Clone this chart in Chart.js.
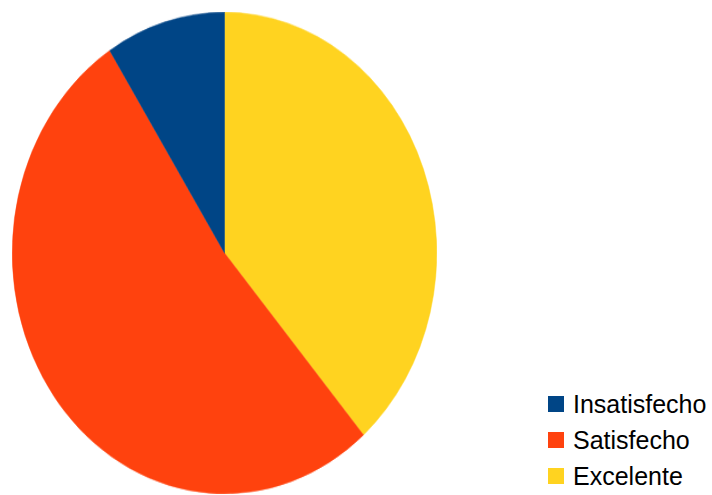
<!DOCTYPE html>
<html>
<head>
<meta charset="utf-8">
<script src="https://cdn.jsdelivr.net/npm/chart.js@4"></script>
<style>
    html, body { margin: 0; padding: 0; background: #fff; }
    body { width: 712px; height: 495px; position: relative; overflow: hidden; }
    #pieWrap {
        position: absolute; left: 12px; top: 12px;
        width: 425px; height: 425px;
        transform: scaleY(1.134); transform-origin: 0 0;
    }
    #legend {
        position: absolute; left: 548px; top: 386px;
        font-family: "Liberation Sans", Arial, sans-serif; font-size: 25px; color: #000;
    }
    .item { display: flex; align-items: center; height: 36px; }
    .box { width: 16px; height: 16px; margin-right: 9px; }
</style>
</head>
<body>
<div id="pieWrap"><canvas id="pieChart" width="425" height="425"></canvas></div>
<div id="legend"></div>
<script>
// Chart data
const labels = ['Insatisfecho', 'Satisfecho', 'Excelente'];
const values = [4, 23, 17];
const sliceColors = ['#004586', '#ff420e', '#ffd320'];

document.addEventListener('DOMContentLoaded', function() {
    initPie();
    initLegend();
});

// Pie chart - slices run counter-clockwise from 12 o'clock, so feed them reversed
function initPie() {
    const ctx = document.getElementById('pieChart');
    const revLabels = labels.slice().reverse();
    const revValues = values.slice().reverse();
    const revColors = sliceColors.slice().reverse();

    new Chart(ctx, {
        type: 'pie',
        data: {
            labels: revLabels,
            datasets: [{
                data: revValues,
                backgroundColor: revColors,
                borderColor: revColors,
                borderWidth: 0.5
            }]
        },
        options: {
            responsive: false,
            animation: false,
            rotation: 0,
            layout: { padding: 0 },
            plugins: {
                legend: { display: false },
                tooltip: { enabled: false }
            }
        }
    });
}

// Legend on the right
function initLegend() {
    const legend = document.getElementById('legend');
    labels.forEach(function(label, i) {
        const row = document.createElement('div');
        row.className = 'item';
        row.innerHTML = '<div class="box" style="background:' + sliceColors[i] + '"></div><span>' + label + '</span>';
        legend.appendChild(row);
    });
}
</script>
</body>
</html>
